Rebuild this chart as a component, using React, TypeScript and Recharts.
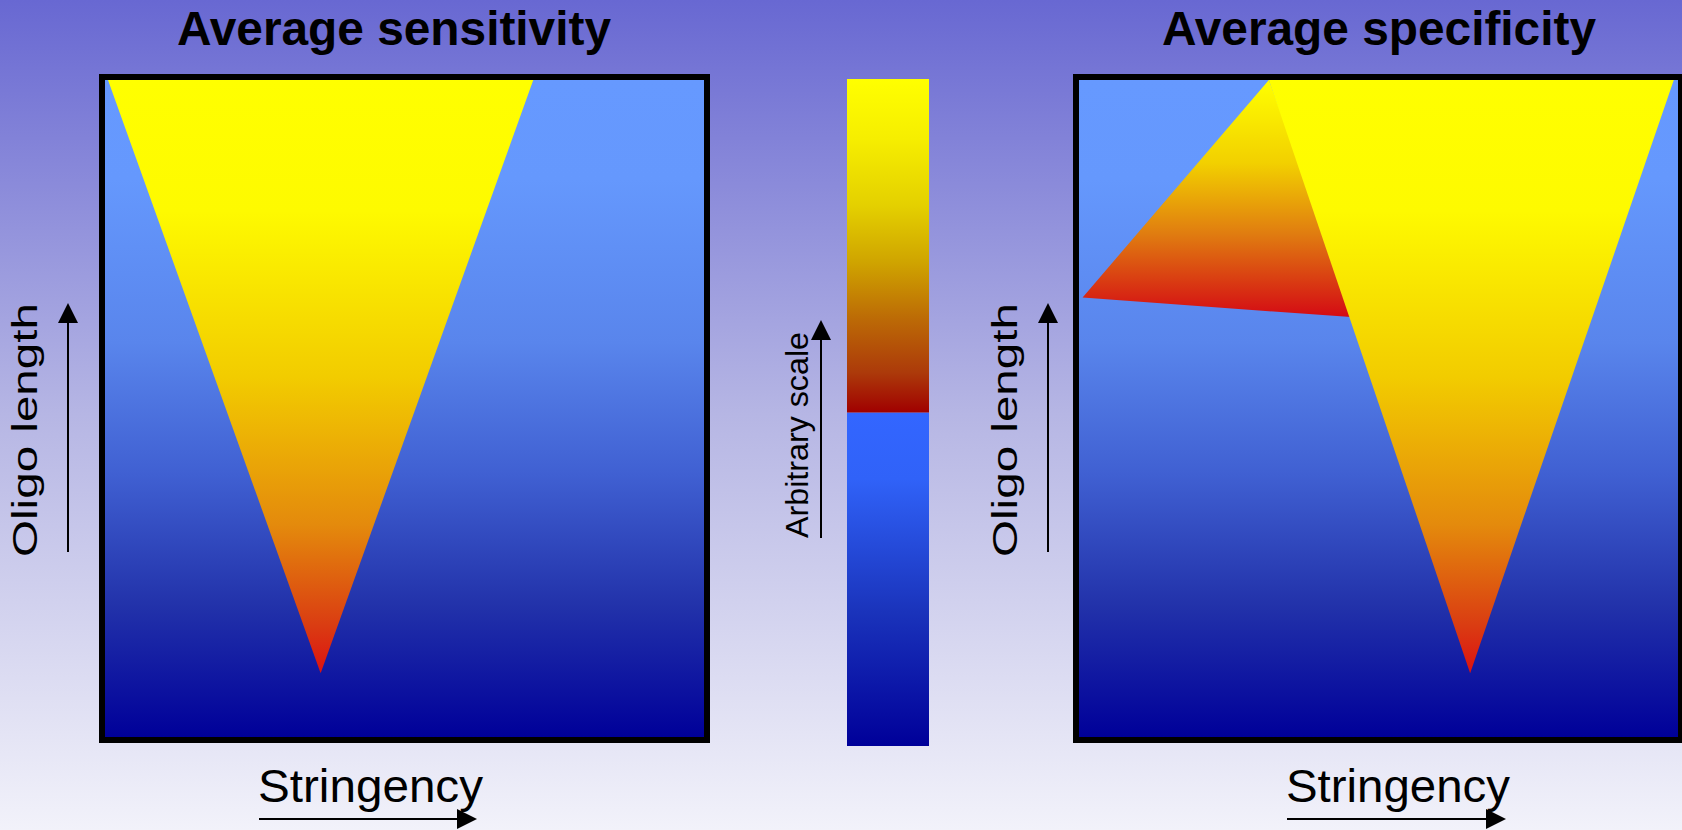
import React from 'react';
import { ComposedChart, Area, BarChart, Bar, XAxis, YAxis } from 'recharts';

// both panels: stringency (x) against oligo length (y), arbitrary 0-100 units
const sensStringency = [0.5, 36.0, 71.5];
const sensBand = [[100, 100], [9.7, 100], [100, 100]];

const specStringency = [0.6, 31.7, 46.0, 65.3, 99.3];
const specSideBand = [[66.9, 66.9], [64.8, 100], [63.9, 63.9], null, null];
const specMainBand = [null, [100, 100], null, [9.7, 100], [100, 100]];

// colour scale bar, split in two halves
const scaleCategories = ['scale'];
const scaleLow = [50];
const scaleHigh = [50];

const sensData = sensStringency.map((x, i) => ({ x, band: sensBand[i] }));
const specData = specStringency.map((x, i) => ({ x, side: specSideBand[i], main: specMainBand[i] }));
const scaleData = scaleCategories.map((name, i) => ({ name, low: scaleLow[i], high: scaleHigh[i] }));

const FONT = '"Liberation Sans", Arial, sans-serif';

const panelBg =
  'linear-gradient(to bottom, #6699ff 0%, #6598fd 15%, #5985ec 40%, #4060d2 60%, #2232aa 80%, #000099 100%)';

const panelBox = (left: number): React.CSSProperties => ({
  position: 'absolute',
  left,
  top: 74,
  width: 611,
  height: 669,
  border: '6px solid #000',
  boxSizing: 'border-box',
  background: panelBg
});

const HotStops = () => (
  <>
    <stop offset="0%" stopColor="#ffff00" />
    <stop offset="22%" stopColor="#fefa00" />
    <stop offset="50%" stopColor="#f2cc00" />
    <stop offset="75%" stopColor="#e48a0c" />
    <stop offset="92%" stopColor="#da3c12" />
    <stop offset="100%" stopColor="#dd1111" />
  </>
);

const HArrow = ({ x1, x2, y }: { x1: number; x2: number; y: number }) => (
  <g>
    <line x1={x1} y1={y} x2={x2 - 20} y2={y} stroke="#000" strokeWidth={2} />
    <polygon points={`${x2 - 20},${y - 10} ${x2},${y} ${x2 - 20},${y + 10}`} fill="#000" />
  </g>
);

const VArrow = ({ x, y1, y2 }: { x: number; y1: number; y2: number }) => (
  <g>
    <line x1={x} y1={y1} x2={x} y2={y2 + 20} stroke="#000" strokeWidth={2} />
    <polygon points={`${x - 10},${y2 + 20} ${x},${y2} ${x + 10},${y2 + 20}`} fill="#000" />
  </g>
);

export default function App() {
  return (
    <div
      style={{
        position: 'absolute',
        left: 0,
        top: 0,
        width: 1682,
        height: 830,
        overflow: 'hidden',
        fontFamily: FONT,
        background: 'linear-gradient(to bottom, #6868d2 0%, #b6b6e4 50%, #f2f2fa 100%)'
      }}
    >
      {/* Average sensitivity */}
      <div style={panelBox(99)}>
        <ComposedChart width={599} height={657} data={sensData} margin={{ top: 0, right: 0, bottom: 0, left: 0 }}>
          <defs>
            <linearGradient id="hotSens" x1="0" y1="0" x2="0" y2="1">
              <HotStops />
            </linearGradient>
          </defs>
          <XAxis type="number" dataKey="x" domain={[0, 100]} hide allowDataOverflow />
          <YAxis type="number" domain={[0, 100]} hide allowDataOverflow />
          <Area
            type="linear"
            dataKey="band"
            stroke="none"
            fill="url(#hotSens)"
            fillOpacity={1}
            dot={false}
            activeDot={false}
            isAnimationActive={false}
          />
        </ComposedChart>
      </div>

      {/* Average specificity */}
      <div style={panelBox(1073)}>
        <ComposedChart width={599} height={657} data={specData} margin={{ top: 0, right: 0, bottom: 0, left: 0 }}>
          <defs>
            <linearGradient id="hotSide" x1="0" y1="0" x2="0" y2="1">
              <stop offset="0%" stopColor="#ffff00" />
              <stop offset="35%" stopColor="#f2d000" />
              <stop offset="65%" stopColor="#e07c10" />
              <stop offset="100%" stopColor="#d40a14" />
            </linearGradient>
            <linearGradient id="hotSpec" x1="0" y1="0" x2="0" y2="1">
              <HotStops />
            </linearGradient>
          </defs>
          <XAxis type="number" dataKey="x" domain={[0, 100]} hide allowDataOverflow />
          <YAxis type="number" domain={[0, 100]} hide allowDataOverflow />
          <Area
            type="linear"
            dataKey="side"
            stroke="none"
            fill="url(#hotSide)"
            fillOpacity={1}
            connectNulls
            dot={false}
            activeDot={false}
            isAnimationActive={false}
          />
          <Area
            type="linear"
            dataKey="main"
            stroke="none"
            fill="url(#hotSpec)"
            fillOpacity={1}
            connectNulls
            dot={false}
            activeDot={false}
            isAnimationActive={false}
          />
        </ComposedChart>
      </div>

      {/* colour scale */}
      <div style={{ position: 'absolute', left: 847, top: 79 }}>
        <BarChart
          width={82}
          height={667}
          data={scaleData}
          margin={{ top: 0, right: 0, bottom: 0, left: 0 }}
          barCategoryGap={0}
        >
          <defs>
            <linearGradient id="scaleLow" x1="0" y1="0" x2="0" y2="1">
              <stop offset="0%" stopColor="#3366ff" />
              <stop offset="20%" stopColor="#3062f8" />
              <stop offset="60%" stopColor="#1a33bb" />
              <stop offset="100%" stopColor="#000099" />
            </linearGradient>
            <linearGradient id="scaleHigh" x1="0" y1="0" x2="0" y2="1">
              <stop offset="0%" stopColor="#ffff00" />
              <stop offset="18%" stopColor="#f6ee00" />
              <stop offset="38%" stopColor="#e4d000" />
              <stop offset="55%" stopColor="#cfa400" />
              <stop offset="72%" stopColor="#bc6a06" />
              <stop offset="88%" stopColor="#ac3a0a" />
              <stop offset="100%" stopColor="#a00000" />
            </linearGradient>
          </defs>
          <XAxis dataKey="name" hide />
          <YAxis type="number" domain={[0, 100]} hide />
          <Bar dataKey="low" stackId="s" fill="url(#scaleLow)" isAnimationActive={false} />
          <Bar dataKey="high" stackId="s" fill="url(#scaleHigh)" isAnimationActive={false} />
        </BarChart>
      </div>

      {/* titles, axis captions, arrows */}
      <svg
        width={1682}
        height={830}
        style={{ position: 'absolute', left: 0, top: 0, pointerEvents: 'none' }}
        fontFamily={FONT}
      >
        <text x={177} y={45} fontSize={48} fontWeight="bold" textLength={434} lengthAdjust="spacingAndGlyphs">
          Average sensitivity
        </text>
        <text x={1162} y={45} fontSize={48} fontWeight="bold" textLength={434} lengthAdjust="spacingAndGlyphs">
          Average specificity
        </text>

        <text x={258} y={802} fontSize={47} textLength={225} lengthAdjust="spacingAndGlyphs">
          Stringency
        </text>
        <HArrow x1={259} x2={477} y={819} />
        <text x={1286} y={802} fontSize={47} textLength={224} lengthAdjust="spacingAndGlyphs">
          Stringency
        </text>
        <HArrow x1={1287} x2={1506} y={819} />

        <text transform="translate(37,557) rotate(-90)" fontSize={35} textLength={254} lengthAdjust="spacingAndGlyphs">
          Oligo length
        </text>
        <VArrow x={68} y1={552} y2={303} />
        <text transform="translate(1017,557) rotate(-90)" fontSize={35} textLength={254} lengthAdjust="spacingAndGlyphs">
          Oligo length
        </text>
        <VArrow x={1048} y1={552} y2={303} />

        <text transform="translate(808,538) rotate(-90)" fontSize={31} textLength={206} lengthAdjust="spacingAndGlyphs">
          Arbitrary scale
        </text>
        <VArrow x={821} y1={538} y2={320} />
      </svg>
    </div>
  );
}
